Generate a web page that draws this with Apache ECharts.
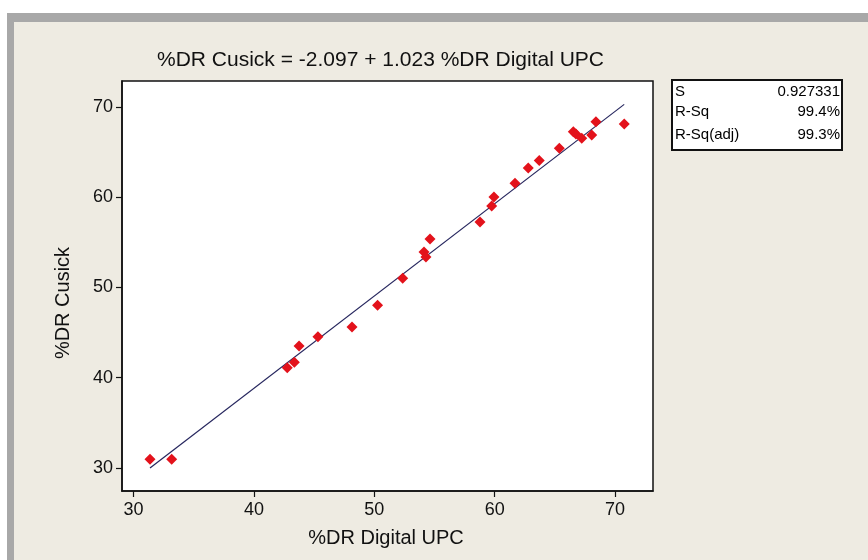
<!DOCTYPE html>
<html>
<head>
<meta charset="utf-8">
<script src="https://cdn.jsdelivr.net/npm/echarts@6/dist/echarts.min.js"></script>
<style>
html,body{margin:0;padding:0;background:#fff;}
#chart{width:868px;height:560px;}
</style>
</head>
<body>
<div id="chart"></div>
<script>
// ---- data ----
const digitalUPC = [31.37, 33.17, 42.77, 43.36, 43.75, 45.32, 48.15, 50.27, 52.36, 54.13, 54.29, 54.63, 58.78, 59.75, 59.94, 61.69, 62.79, 63.70, 65.37, 66.53, 66.75, 67.23, 68.06, 68.41, 70.76];
const cusick     = [30.96, 30.96, 41.11, 41.71, 43.52, 44.55, 45.62, 48.03, 51.02, 53.93, 53.38, 55.37, 57.26, 59.03, 60.03, 61.55, 63.24, 64.07, 65.42, 67.26, 67.01, 66.53, 66.90, 68.37, 68.12];
const intercept = -2.097;
const slope = 1.023;
const xTicks = [30, 40, 50, 60, 70];
const yTicks = [30, 40, 50, 60, 70];
const titleText = '%DR Cusick = -2.097 + 1.023 %DR Digital UPC';
const xName = '%DR Digital UPC';
const yName = '%DR Cusick';
const statLabels = ['S', 'R-Sq', 'R-Sq(adj)'];
const statValues = ['0.927331', '99.4%', '99.3%'];

const points = digitalUPC.map((x, i) => [x, cusick[i]]);
const xMinData = Math.min(...digitalUPC), xMaxData = Math.max(...digitalUPC);
const fitLine = [[xMinData, intercept + slope * xMinData], [xMaxData, intercept + slope * xMaxData]];

const FONT = 'Liberation Sans, Arial, sans-serif';
const chart = echarts.init(document.getElementById('chart'));

const statRows = [92, 112, 135];
const statGraphics = [];
statLabels.forEach((l, i) => {
  statGraphics.push({type: 'text', x: 675, y: statRows[i], z: 20,
    style: {text: l, font: '15px ' + FONT, fill: '#000', textVerticalAlign: 'middle', textAlign: 'left'}});
  statGraphics.push({type: 'text', x: 840, y: statRows[i], z: 20,
    style: {text: statValues[i], font: '15px ' + FONT, fill: '#000', textVerticalAlign: 'middle', textAlign: 'right'}});
});

chart.setOption({
  animation: false,
  backgroundColor: '#fff',
  title: {
    text: titleText, left: 152, top: 45,
    textStyle: {fontFamily: FONT, fontSize: 21, fontWeight: 'normal', color: '#111'}
  },
  grid: {left: 122, right: 215, top: 81, bottom: 69, show: true, backgroundColor: '#fff', borderColor: '#111', borderWidth: 1.5},
  xAxis: {
    type: 'value', min: 29.045, max: 73.15,
    axisLine: {show: true, lineStyle: {color: '#111', width: 1.5}},
    axisTick: {show: true, length: 6, customValues: xTicks, lineStyle: {color: '#111', width: 1.2}},
    axisLabel: {customValues: xTicks, margin: 10, fontFamily: FONT, fontSize: 18, color: '#111'},
    splitLine: {show: false}
  },
  yAxis: {
    type: 'value', min: 27.45, max: 72.88,
    axisLine: {show: true, lineStyle: {color: '#111', width: 1.5}},
    axisTick: {show: true, length: 6, customValues: yTicks, lineStyle: {color: '#111', width: 1.2}},
    axisLabel: {customValues: yTicks, margin: 9, fontFamily: FONT, fontSize: 18, color: '#111'},
    splitLine: {show: false}
  },
  graphic: [
    {type: 'rect', z: -10, shape: {x: 0, y: 0, width: 868, height: 560}, style: {fill: '#fff'}, silent: true},
    {type: 'rect', z: -9, shape: {x: 7, y: 13, width: 861, height: 547}, style: {fill: '#A8A8A8'}, silent: true},
    {type: 'rect', z: -8, shape: {x: 14, y: 22, width: 854, height: 538}, style: {fill: '#EEEBE2'}, silent: true},
    {type: 'rect', z: 10, shape: {x: 672, y: 80, width: 170, height: 70}, style: {fill: '#fff', stroke: '#111', lineWidth: 2}},
    ...statGraphics,
    {type: 'text', x: 386, y: 538, z: 20,
      style: {text: xName, font: '20px ' + FONT, fill: '#111', textAlign: 'center', textVerticalAlign: 'middle'}},
    {type: 'text', x: 63, y: 303, rotation: Math.PI / 2, z: 20,
      style: {text: yName, font: '20px ' + FONT, fill: '#111', textAlign: 'center', textVerticalAlign: 'middle'}}
  ],
  series: [
    {type: 'line', data: fitLine, symbol: 'none', z: 2, lineStyle: {color: '#26265e', width: 1.2}, silent: true},
    {type: 'scatter', data: points, symbol: 'diamond', symbolSize: 11, z: 3, itemStyle: {color: '#E3121B', opacity: 1}}
  ]
});
</script>
</body>
</html>
